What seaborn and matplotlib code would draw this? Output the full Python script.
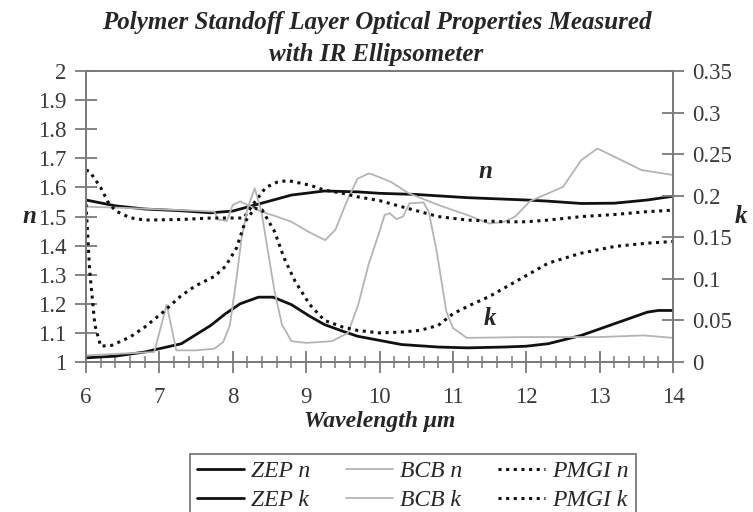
import numpy as np
import pandas as pd
import matplotlib
matplotlib.use("Agg")
import matplotlib.pyplot as plt
from matplotlib.ticker import MultipleLocator, FormatStrFormatter
import seaborn as sns

# values
zep_n_x = [6.0, 6.4, 6.8, 7.3, 7.7, 8.0, 8.35, 8.8, 9.25, 9.7, 10.0, 10.5, 11.2, 12.0, 12.3, 12.75, 13.2, 13.65, 14.0]
zep_n = [1.557, 1.537, 1.526, 1.52, 1.513, 1.519, 1.543, 1.574, 1.588, 1.585, 1.58, 1.576, 1.565, 1.557, 1.553, 1.545, 1.546, 1.557, 1.570]

zep_k_x = [6.0, 6.4, 6.8, 7.3, 7.7, 7.9, 8.1, 8.35, 8.55, 8.8, 9.05, 9.25, 9.5, 9.7, 10.0, 10.3, 10.8, 11.2, 11.7, 12.0, 12.3, 12.75, 13.2, 13.65, 13.8, 14.0]
zep_k = [0.005, 0.007, 0.012, 0.022, 0.044, 0.058, 0.070, 0.078, 0.078, 0.069, 0.055, 0.045, 0.037, 0.031, 0.026, 0.021, 0.018, 0.017, 0.018, 0.019, 0.022, 0.032, 0.046, 0.060, 0.062, 0.062]

bcb_n_x = [6.0, 6.5, 7.0, 7.5, 7.75, 7.8, 7.92, 8.0, 8.1, 8.2, 8.39, 8.6, 8.8, 9.03, 9.26, 9.4, 9.55, 9.7, 9.85, 9.9, 10.15, 10.4, 10.8, 11.2, 11.5, 11.7, 11.85, 12.05, 12.3, 12.5, 12.75, 12.97, 13.2, 13.57, 14.0]
bcb_n = [1.534, 1.530, 1.525, 1.52, 1.517, 1.49, 1.485, 1.54, 1.552, 1.54, 1.517, 1.50, 1.482, 1.448, 1.419, 1.455, 1.55, 1.63, 1.648, 1.645, 1.62, 1.58, 1.54, 1.505, 1.476, 1.482, 1.50, 1.553, 1.58, 1.602, 1.694, 1.734, 1.706, 1.66, 1.643]

bcb_k_x = [6.0, 6.93, 7.1, 7.23, 7.5, 7.75, 7.87, 7.96, 8.05, 8.12, 8.2, 8.3, 8.39, 8.48, 8.57, 8.67, 8.8, 9.0, 9.35, 9.57, 9.71, 9.85, 10.0, 10.07, 10.14, 10.23, 10.32, 10.41, 10.6, 10.67, 10.78, 10.91, 11.0, 11.19, 12.0, 13.0, 13.6, 14.0]
bcb_k = [0.008, 0.012, 0.069, 0.014, 0.014, 0.016, 0.024, 0.044, 0.10, 0.149, 0.185, 0.209, 0.181, 0.133, 0.085, 0.045, 0.025, 0.023, 0.025, 0.035, 0.069, 0.117, 0.157, 0.177, 0.179, 0.172, 0.175, 0.191, 0.192, 0.181, 0.133, 0.061, 0.041, 0.029, 0.030, 0.030, 0.032, 0.029]

pmgi_n_x = [6.0, 6.05, 6.2, 6.3, 6.4, 6.6, 6.8, 7.3, 7.7, 8.0, 8.15, 8.3, 8.45, 8.6, 8.75, 9.05, 9.25, 9.5, 9.7, 10.0, 10.3, 10.8, 11.2, 11.7, 12.0, 12.3, 12.75, 13.2, 13.65, 14.0]
pmgi_n = [1.66, 1.655, 1.60, 1.55, 1.52, 1.496, 1.488, 1.49, 1.495, 1.495, 1.495, 1.55, 1.60, 1.618, 1.624, 1.608, 1.591, 1.58, 1.568, 1.555, 1.534, 1.50, 1.488, 1.482, 1.482, 1.488, 1.50, 1.507, 1.517, 1.522]

pmgi_k_x = [6.0, 6.05, 6.12, 6.2, 6.35, 6.6, 6.8, 7.05, 7.3, 7.5, 7.75, 7.9, 8.05, 8.17, 8.3, 8.4, 8.57, 8.7, 8.85, 9.05, 9.25, 9.5, 9.7, 10.0, 10.3, 10.55, 10.8, 11.0, 11.25, 11.5, 11.7, 12.0, 12.3, 12.75, 13.2, 13.65, 14.0]
pmgi_k = [0.19, 0.11, 0.045, 0.019, 0.02, 0.03, 0.042, 0.06, 0.08, 0.092, 0.103, 0.115, 0.137, 0.169, 0.185, 0.183, 0.157, 0.125, 0.097, 0.069, 0.05, 0.042, 0.038, 0.035, 0.036, 0.038, 0.044, 0.058, 0.069, 0.079, 0.089, 0.104, 0.119, 0.131, 0.139, 0.143, 0.145]

sns.set_style("white")
plt.rcParams['font.family'] = ['Liberation Serif', 'DejaVu Serif']

fig = plt.figure(figsize=(7.53, 5.12), dpi=100)
ax = fig.add_axes([0.1142, 0.293, 0.7796, 0.568])
ax2 = ax.twinx()

black = "#111111"
gray = "#b4b4b4"
dots = (0, (1, 1.5))

sns.lineplot(x=zep_n_x, y=zep_n, ax=ax, color=black, lw=2.0, label="ZEP n", legend=False)
sns.lineplot(x=bcb_n_x, y=bcb_n, ax=ax, color=gray, lw=1.3, label="BCB n", legend=False)
sns.lineplot(x=pmgi_n_x, y=pmgi_n, ax=ax, color=black, lw=2.2, linestyle=dots, label="PMGI n", legend=False)
sns.lineplot(x=zep_k_x, y=zep_k, ax=ax2, color=black, lw=2.0, label="ZEP k", legend=False)
sns.lineplot(x=bcb_k_x, y=bcb_k, ax=ax2, color=gray, lw=1.3, label="BCB k", legend=False)
sns.lineplot(x=pmgi_k_x, y=pmgi_k, ax=ax2, color=black, lw=2.2, linestyle=dots, label="PMGI k", legend=False)

ax.set_xlim(6, 14)
ax.set_ylim(1, 2)
ax2.set_ylim(0, 0.35)
ax.xaxis.set_major_locator(MultipleLocator(1))
ax.xaxis.set_minor_locator(MultipleLocator(0.2))
ax.yaxis.set_major_locator(MultipleLocator(0.1))
ax2.yaxis.set_major_locator(MultipleLocator(0.05))
ax.yaxis.set_major_formatter(FormatStrFormatter('%g'))
ax2.yaxis.set_major_formatter(FormatStrFormatter('%g'))

spine_col = "#7a7a7a"
for a in (ax, ax2):
    for s in a.spines.values():
        s.set_color(spine_col)
        s.set_linewidth(1.3)
ax.tick_params(axis='x', which='major', direction='inout', length=16, width=1.3, color=spine_col,
               labelsize=16.5, pad=10, bottom=True)
ax.tick_params(axis='x', which='minor', direction='inout', length=8, width=1.1, color=spine_col, bottom=True)
ax.tick_params(axis='y', which='major', direction='inout', length=16, width=1.3, color=spine_col,
               labelsize=16.5, pad=6, left=True)
ax2.tick_params(axis='y', which='major', direction='inout', length=16, width=1.3, color=spine_col,
                labelsize=16.5, pad=6, right=True)
for lab in ax.get_xticklabels() + ax.get_yticklabels() + ax2.get_yticklabels():
    lab.set_color("#3a3a3a")

ax.set_xlabel("Wavelength μm", fontsize=17, fontweight='bold', style='italic', labelpad=2)
ax.set_ylabel("n", fontsize=18, fontweight='bold', style='italic', rotation=0, labelpad=6, va='center')
ax2.set_ylabel("k", fontsize=18, fontweight='bold', style='italic', rotation=0, labelpad=6, va='center')

fig.text(0.5, 1 - 22 / 512, "Polymer Standoff Layer Optical Properties Measured",
         fontsize=18, fontweight='bold', style='italic', ha='center', va='center')
fig.text(0.5, 1 - 55 / 512, "with IR Ellipsometer",
         fontsize=18, fontweight='bold', style='italic', ha='center', va='center')

ax.text(11.45, 1.655, "n", fontsize=18, fontweight='bold', style='italic', ha='center', va='center')
ax.text(11.5, 1.148, "k", fontsize=18, fontweight='bold', style='italic', ha='center', va='center')

h1, l1 = ax.get_legend_handles_labels()
h2, l2 = ax2.get_legend_handles_labels()
order_h = [h1[0], h2[0], h1[1], h2[1], h1[2], h2[2]]
order_l = [l1[0], l2[0], l1[1], l2[1], l1[2], l2[2]]
leg = fig.legend(order_h, order_l, ncol=3, loc='upper center', bbox_to_anchor=(0.548, 1 - 442 / 512),
                 frameon=True, fancybox=False, edgecolor=spine_col, framealpha=1,
                 prop={'family': 'Liberation Serif', 'style': 'italic', 'size': 17},
                 handlelength=2.0, handletextpad=0.3, columnspacing=1.5, labelspacing=0.3,
                 borderpad=0.3)
leg.get_frame().set_linewidth(1.3)

fig.savefig("out.png", dpi=100)
